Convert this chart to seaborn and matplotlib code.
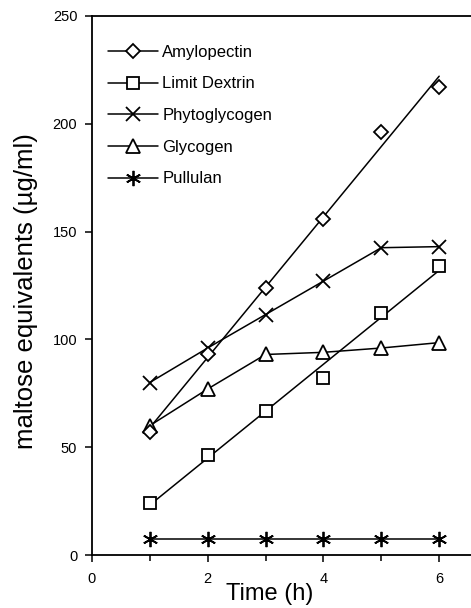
import numpy as np
import pandas as pd
import matplotlib
matplotlib.use("Agg")
import matplotlib.pyplot as plt
from matplotlib.lines import Line2D
from matplotlib.ticker import MultipleLocator
import seaborn as sns

# data
time_h = [1, 2, 3, 4, 5, 6]
amylopectin = [57, 93, 124, 156, 196, 217]
limit_dextrin = [24, 46.5, 67, 82, 112, 134]
phytoglycogen = [80, 96, 111.5, 127, 142.5, 143]
glycogen = [60, 77, 93, 94, 96, 98.5]
pullulan = [7.5, 7.5, 7.5, 7.5, 7.5, 7.5]

names = ["Amylopectin", "Limit Dextrin", "Phytoglycogen", "Glycogen", "Pullulan"]
markers = ["D", "s", "x", "^", (6, 2, 0)]
msizes = [7, 8, 10, 10, 11]
fitted = [True, True, False, False, False]   # these two are drawn as linear fits

sns.set_style("ticks")
plt.rcParams["font.family"] = ["Liberation Sans", "DejaVu Sans"]
plt.rcParams["text.color"] = "black"
plt.rcParams["axes.labelcolor"] = "black"
plt.rcParams["xtick.color"] = "black"
plt.rcParams["ytick.color"] = "black"

fig = plt.figure(figsize=(4.71, 6.08), dpi=100)
ax = fig.add_axes([0.195, 0.087, 0.805, 0.887])

series = [amylopectin, limit_dextrin, phytoglycogen, glycogen, pullulan]
handles = []
for name, vals, mk, ms, fit in zip(names, series, markers, msizes, fitted):
    df = pd.DataFrame({"t": time_h, "v": vals})
    if fit:
        sns.regplot(data=df, x="t", y="v", ci=None, scatter=False, ax=ax,
                    line_kws={"color": "black", "lw": 1.1})
        ax.plot(df["t"], df["v"], ls="none", marker=mk, ms=ms, mfc="white",
                mec="black", mew=1.3, zorder=3)
    else:
        sns.lineplot(data=df, x="t", y="v", ax=ax, color="black", lw=1.1,
                     marker=mk, markersize=ms, markerfacecolor="white",
                     markeredgecolor="black", markeredgewidth=1.3)
    handles.append(Line2D([], [], color="black", lw=1.1, marker=mk, ms=ms,
                          mfc="white", mec="black", mew=1.3))

ax.set_xlim(0, 6.55)
ax.set_ylim(0, 250)
ax.xaxis.set_major_locator(MultipleLocator(2))
ax.xaxis.set_minor_locator(MultipleLocator(1))
ax.yaxis.set_major_locator(MultipleLocator(50))
ax.tick_params(axis="both", which="major", labelsize=10.5, length=5, width=1.1,
               direction="out")
ax.tick_params(axis="y", which="major", pad=5.5)
ax.tick_params(axis="x", which="major", pad=7)
ax.tick_params(axis="x", which="minor", length=4, width=1.1)
for s in ["left", "bottom", "top"]:
    ax.spines[s].set_visible(True)
    ax.spines[s].set_linewidth(1.3)
    ax.spines[s].set_color("black")
ax.spines["right"].set_visible(False)

ax.set_xlabel("Time (h)", fontsize=17)
ax.set_ylabel("maltose equivalents (\u00b5g/ml)", fontsize=18.5)
ax.xaxis.set_label_coords(0.47, -0.052)
ax.yaxis.set_label_coords(-0.143, 0.49)

ax.legend(handles, names, loc="upper left", frameon=False, fontsize=12,
          handlelength=3.0, labelspacing=1.0, borderaxespad=0.3,
          handletextpad=0.25, bbox_to_anchor=(0.012, 0.968))

fig.savefig("out.png", dpi=100)
